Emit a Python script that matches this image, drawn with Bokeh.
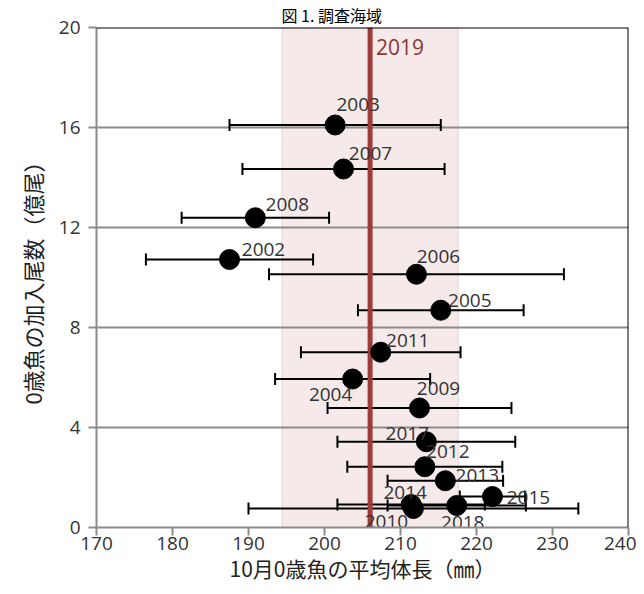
import numpy as np
from bokeh.plotting import figure
from bokeh.models import Range1d, Span, FixedTicker
from bokeh.embed import file_html
from bokeh.resources import INLINE
from bokeh.core.properties import value

# ---- data ----
years = ["2002", "2003", "2004", "2005", "2006", "2007", "2008", "2009",
         "2010", "2011", "2012", "2013", "2014", "2015", "2017", "2018"]
length_mean = [187.5, 201.4, 203.7, 215.3, 212.1, 202.5, 190.9, 212.5,
               211.7, 207.4, 213.2, 215.9, 211.4, 222.1, 213.4, 217.4]
length_sd = [11.0, 13.9, 10.2, 10.9, 19.4, 13.3, 9.7, 12.1,
             21.7, 10.5, 10.2, 7.6, 9.7, 4.3, 11.7, 9.1]
recruits = [10.72, 16.10, 5.94, 8.69, 10.13, 14.34, 12.39, 4.78,
            0.76, 7.01, 2.43, 1.87, 0.92, 1.24, 3.43, 0.88]

mean_2019 = 206.0
sd_2019 = 11.6
label_2019 = "2019"

x_ticks = [170, 180, 190, 200, 210, 220, 230, 240]
y_ticks = [0, 4, 8, 12, 16, 20]

title_text = "図 1. 調査海域"
x_title = "10月0歳魚の平均体長（㎜）"
y_title = "0歳魚の加入尾数（億尾）"

# label placement (screen px offsets, style only)
label_dx = [34, 23, -22, 29, 22, 27, 32, 19, -27, 27, 23, 32, -6, 36, -19, 6]
label_dy = [-10, -21, 15, -10, -18, -16, -13, -20, 13, -12, -15, -5, -12, 1, -8, 17]

# ---- figure ----
x0, x1 = x_ticks[0], x_ticks[-1]
y0, y1 = y_ticks[0], y_ticks[-1]

p = figure(width=636, height=586, x_range=Range1d(x0, x1), y_range=Range1d(y0, y1),
           output_backend="svg", toolbar_location=None,
           min_border_left=96, min_border_right=8, min_border_top=25, min_border_bottom=59)
p.background_fill_color = "white"
p.border_fill_color = "white"
p.outline_line_color = None

# title
p.title.text = title_text
p.title.text_font = "Noto Sans CJK JP"
p.title.text_font_size = "16px"
p.title.text_font_style = "normal"
p.title.text_color = "black"
p.title.align = "left"
p.title.offset = 185
p.title.standoff = 1

# band for 2019 (mean +- sd)
lo19 = mean_2019 - sd_2019
hi19 = mean_2019 + sd_2019
p.quad(left=[lo19], right=[hi19], bottom=[y0], top=[y1],
       fill_color="#f5e9e9", line_color="#e6d6d6", line_width=1, level="image")

# grid
p.xgrid.visible = False
p.ygrid.ticker = FixedTicker(ticks=y_ticks)
p.ygrid.grid_line_color = "#8c8c8c"
p.ygrid.grid_line_width = 2

# axes
for ax in (p.xaxis[0], p.yaxis[0]):
    ax.axis_line_color = "#8c8c8c"
    ax.axis_line_width = 2
    ax.major_tick_line_color = "#8c8c8c"
    ax.major_tick_line_width = 2
    ax.major_tick_out = 8
    ax.major_tick_in = 0
    ax.minor_tick_line_color = None
    ax.major_label_text_font = "Open Sans"
    ax.major_label_text_font_size = "19px"
    ax.major_label_text_color = "#333333"
    ax.axis_label_text_font = "Noto Sans CJK JP"
    ax.axis_label_text_font_style = "normal"
    ax.axis_label_text_color = "#222222"
p.xaxis.ticker = FixedTicker(ticks=x_ticks)
p.yaxis.ticker = FixedTicker(ticks=y_ticks)
p.xaxis.major_label_standoff = 1
p.yaxis.major_label_standoff = 8
p.xaxis.axis_label = x_title
p.xaxis.axis_label_text_font_size = "21px"
p.xaxis.axis_label_standoff = 0
p.yaxis.axis_label = y_title
p.yaxis.axis_label_text_font_size = "22px"
p.yaxis.axis_label_standoff = 8

# top / right border
p.add_layout(Span(location=x1, dimension="height", line_color="black", line_width=2))
p.add_layout(Span(location=y1, dimension="width", line_color="black", line_width=2))

# error bars
lo = [m - s for m, s in zip(length_mean, length_sd)]
hi = [m + s for m, s in zip(length_mean, length_sd)]
p.segment(x0=lo, y0=recruits, x1=hi, y1=recruits, line_color="black", line_width=2)
p.scatter(x=lo + hi, y=recruits + recruits, marker="dash", size=12, angle=np.pi / 2,
          line_color="black", line_width=2)

# 2019 line
p.segment(x0=[mean_2019], y0=[y0], x1=[mean_2019], y1=[y1], line_color="#9e3b3b", line_width=5)
p.text(x=[mean_2019], y=[y1], text=[label_2019], x_offset=6, y_offset=11,
       text_align="left", text_baseline="top", text_font=value("Open Sans"),
       text_font_size="21px", text_color="#8b3535")

# points
p.scatter(x=length_mean, y=recruits, size=20, fill_color="black", line_color="black")

# year labels
p.text(x=length_mean, y=recruits, text=years, x_offset=label_dx, y_offset=label_dy,
       text_align="center", text_baseline="middle", text_font=value("Open Sans"),
       text_font_size="19px", text_color="#333333")

open("out.html", "w").write(file_html(p, INLINE))
